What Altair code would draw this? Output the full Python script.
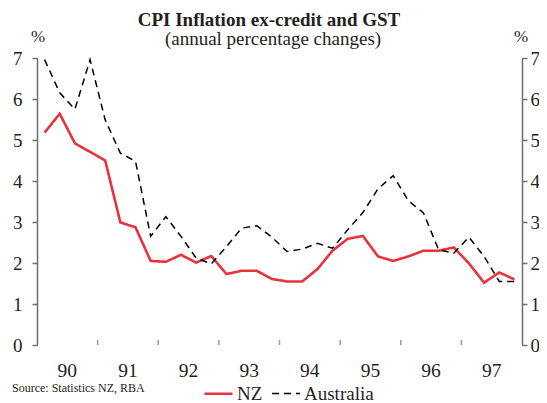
import altair as alt
import pandas as pd

# Quarterly, 1990 Q1 .. 1997 Q4
years = list(range(1990, 1998))
year_labels = ["90", "91", "92", "93", "94", "95", "96", "97"]
nz = [5.18, 5.64, 4.92, 4.71, 4.50, 2.99, 2.87, 2.05,
      2.03, 2.20, 2.01, 2.17, 1.73, 1.81, 1.81, 1.61,
      1.55, 1.55, 1.85, 2.30, 2.59, 2.66, 2.16, 2.05,
      2.16, 2.30, 2.30, 2.38, 1.99, 1.52, 1.77, 1.60]
australia = [6.96, 6.15, 5.75, 6.96, 5.49, 4.68, 4.48, 2.65,
             3.13, 2.65, 2.12, 1.98, 2.40, 2.85, 2.91, 2.63,
             2.28, 2.34, 2.48, 2.36, 2.81, 3.23, 3.81, 4.13,
             3.52, 3.22, 2.32, 2.24, 2.63, 2.16, 1.55, 1.55]
series_names = ["NZ", "Australia"]
tick_years = list(range(1991, 1998))
y_ticks = [0, 1, 2, 3, 4, 5, 6, 7]

times = [y + (q + 0.5) / 4 for y in years for q in range(4)]
rows = []
for name, vals in zip(series_names, [nz, australia]):
    for t, v in zip(times, vals):
        rows.append({"t": t, "value": v, "series": name})
df = pd.DataFrame(rows)
labels_df = pd.DataFrame({"t": [y + 0.5 for y in years], "lab": year_labels})

FONT = "Liberation Serif"
TXT = "#231f20"
AX = "#6d6e70"
W, H = 485, 287

xscale = alt.Scale(domain=[1990, 1998], nice=False, zero=False)
yscale = alt.Scale(domain=[0, 7], nice=False)

x_enc = alt.X("t:Q", scale=xscale, title=None,
              axis=alt.Axis(ticks=False, grid=False, labels=False,
                            domainColor=AX, domainWidth=1.5))

legend_kw = dict(title=None, orient="none", legendX=166, legendY=320,
                 direction="horizontal", symbolType="stroke",
                 symbolSize=784, symbolStrokeWidth=2,
                 labelFontSize=19, labelFont=FONT, labelColor=TXT,
                 labelOffset=3, columnPadding=6)

lines = alt.Chart(df).mark_line().encode(
    x=x_enc,
    y=alt.Y("value:Q", scale=yscale, title=None,
            axis=alt.Axis(orient="left", values=y_ticks, grid=False, tickSize=5,
                          tickColor=AX, tickWidth=1.5, domainColor=AX, domainWidth=1.5,
                          labelPadding=10, labelFont=FONT, labelFontSize=19,
                          labelColor=TXT)),
    color=alt.Color("series:N", sort=series_names,
                    scale=alt.Scale(domain=series_names, range=["#e8323c", "#000000"]),
                    legend=alt.Legend(**legend_kw)),
    strokeDash=alt.StrokeDash("series:N", sort=series_names,
                              scale=alt.Scale(domain=series_names, range=[[1, 0], [7, 5]]),
                              legend=alt.Legend(**legend_kw)),
    strokeWidth=alt.StrokeWidth("series:N",
                                scale=alt.Scale(domain=series_names, range=[2.6, 1.5]),
                                legend=None),
)

right = alt.Chart(df).mark_line(opacity=0).encode(
    x=alt.X("t:Q", scale=xscale, axis=None),
    y=alt.Y("value:Q", scale=yscale, title=None,
            axis=alt.Axis(orient="right", values=y_ticks, grid=False, tickSize=5,
                          tickColor=AX, tickWidth=1.5, domainColor=AX, domainWidth=1.5,
                          labelPadding=3, labelFont=FONT, labelFontSize=19,
                          labelColor=TXT)),
)

ticks = alt.Chart(pd.DataFrame({"t": tick_years})).mark_tick(
    orient="vertical", size=5, thickness=1.5, color=AX
).encode(x=alt.X("t:Q", scale=xscale, axis=None), y=alt.value(H - 2.5))

year_text = alt.Chart(labels_df).mark_text(
    font=FONT, fontSize=19.5, color=TXT, baseline="alphabetic"
).encode(x=alt.X("t:Q", scale=xscale, axis=None), y=alt.value(H + 32), text="lab:N")

def label(text, x, y, size, weight="normal", align="center", baseline="alphabetic"):
    return alt.Chart(pd.DataFrame({"s": [text]})).mark_text(
        font=FONT, fontSize=size, fontWeight=weight, color=TXT, align=align,
        baseline=baseline
    ).encode(text="s:N", x=alt.value(x), y=alt.value(y))

texts = [
    label("CPI Inflation ex-credit and GST", 232, -32, 19, "bold"),
    label("(annual percentage changes)", 236, -13, 19),
    label("%", 1, -16, 17),
    label("%", 484, -16, 17),
    label("Source: Statistics NZ, RBA", -25, 334, 12, align="left"),
]

chart = alt.layer(lines, right, ticks, year_text, *texts).resolve_scale(
    y="independent"
).properties(
    width=W, height=H,
    autosize=alt.AutoSizeParams(type="none"),
    padding={"left": 29, "top": 50, "right": 17, "bottom": 58},
    background="white",
).configure_view(stroke=None)

chart.save("out.html", embed_options={"renderer": "svg", "actions": False})
